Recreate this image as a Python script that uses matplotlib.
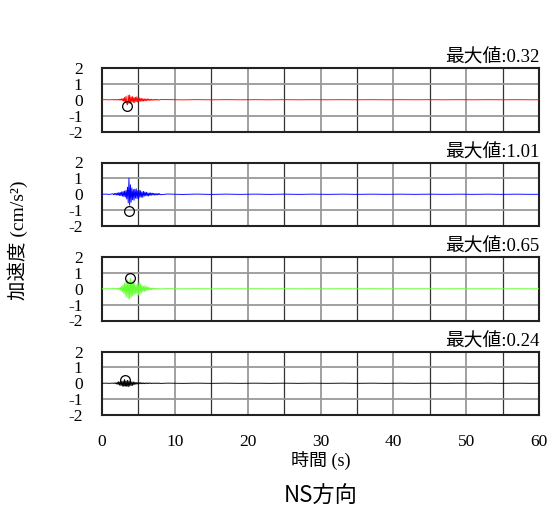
import numpy as np
import matplotlib
matplotlib.use("Agg")
import matplotlib.pyplot as plt

# ---------------- data ----------------
# burst section sampled every 0.1 s from 1.5 s to 8.0 s
burst_start, burst_step = 1.5, 0.1
red_burst = [
    0.01, -0.01, 0.02, -0.01, 0.01, -0.02, 0.02, -0.01, 0.02, -0.02,
    0.04, -0.03, 0.06, -0.05, 0.08,
    -0.10, 0.15, -0.18, 0.22, -0.25,
    -0.32, 0.28, -0.24, 0.30, -0.22, 0.18,
    -0.15, 0.20, -0.17, 0.14, -0.18, 0.16, -0.12, 0.19, -0.14, 0.12,
    -0.10, 0.12, -0.09, 0.08, -0.10, 0.07, -0.08, 0.06, -0.07, 0.05,
    -0.06, 0.05, -0.04, 0.05, -0.04, 0.03, -0.04, 0.03, -0.03, 0.02,
    -0.03, 0.02, -0.02, 0.03, -0.02, 0.02, -0.02, 0.01, -0.02, 0.01,
]
blue_burst = [
    0.03, -0.04, 0.05, -0.03, 0.06, -0.05, 0.08, -0.06, 0.10, -0.08,
    0.12, -0.10, 0.15, -0.12, 0.18,
    -0.15, 0.20, -0.18, 0.25, -0.30,
    0.45, -0.55, 1.01, -0.70, 0.60, -0.50,
    0.40, -0.35, 0.30, -0.38, 0.32, -0.25, 0.35, -0.28, 0.22, -0.30,
    0.25, -0.20, 0.22, -0.18, 0.15, -0.20, 0.18, -0.12, 0.14, -0.10,
    0.12, -0.10, 0.09, -0.11, 0.08, -0.07, 0.09, -0.06, 0.07, -0.05,
    0.06, -0.05, 0.04, -0.05, 0.04, -0.04, 0.05, -0.03, 0.04, -0.03,
]
green_burst = [
    0.01, -0.01, 0.02, -0.02, 0.02, -0.03, 0.03, -0.04, 0.05, -0.05,
    0.08, -0.12, 0.15, -0.20, 0.25,
    -0.30, 0.35, -0.40, 0.45, -0.50,
    0.55, -0.60, 0.50, -0.64, 0.65, -0.55,
    0.50, -0.45, 0.55, -0.40, 0.35, -0.30, 0.25, -0.30, 0.35, -0.40,
    0.42, -0.35, 0.30, -0.25, 0.20, -0.18, 0.15, -0.18, 0.20, -0.15,
    0.12, -0.10, 0.12, -0.08, 0.07, -0.06, 0.05, -0.05, 0.04, -0.03,
    0.03, -0.03, 0.02, -0.02, 0.02, -0.02, 0.01, -0.02, 0.01, -0.01,
]
black_burst = [
    0.01, -0.01, 0.02, -0.02, 0.03, -0.05, 0.06, -0.08, 0.10, -0.12,
    0.10, -0.15, 0.12, -0.18, 0.15,
    -0.20, 0.24, -0.18, 0.15, -0.20,
    0.18, -0.22, 0.15, -0.18, 0.12, -0.15,
    0.10, -0.14, 0.08, -0.10, 0.07, -0.06, 0.05, -0.06, 0.04, -0.05,
    0.04, -0.03, 0.04, -0.03, 0.03, -0.03, 0.02, -0.03, 0.02, -0.02,
    0.02, -0.02, 0.02, -0.02, 0.02, -0.01, 0.02, -0.02, 0.01, -0.01,
    0.01, -0.01, 0.02, -0.01, 0.01, -0.01, 0.01, -0.01, 0.01, -0.01,
]
# quiet sections: before the burst (0, 0.5, 1.0 s) and after it (every 2 s from 9 s)
pre_times = [0.0, 0.5, 1.0]
tail_times = [9, 11, 13, 15, 17, 19, 21, 23, 25, 27, 29, 31, 33, 35, 37,
              39, 41, 43, 45, 47, 49, 51, 53, 55, 57, 59, 60]
red_pre = [0.0, 0.005, -0.005]
blue_pre = [0.0, 0.01, -0.01]
green_pre = [0.0, 0.005, -0.005]
black_pre = [0.0, 0.005, -0.005]
red_tail = [0.01, -0.008, 0.006, -0.005, 0.005, -0.004, 0.004, -0.003, 0.003, -0.003,
            0.003, -0.003, 0.003, -0.003, 0.003, -0.003, 0.003, -0.003, 0.003, -0.003,
            0.003, -0.003, 0.003, -0.003, 0.003, -0.003, 0.0]
blue_tail = [0.015, -0.012, 0.01, -0.01, 0.008, -0.008, 0.008, -0.007, 0.007, -0.007,
             0.007, -0.006, 0.006, -0.006, 0.006, -0.005, 0.005, -0.005, 0.005, -0.005,
             0.005, -0.005, 0.005, -0.005, 0.005, -0.005, 0.0]
green_tail = [0.006, -0.005, 0.004, -0.004, 0.003, -0.003, 0.003, -0.003, 0.003, -0.003,
              0.003, -0.003, 0.003, -0.003, 0.003, -0.003, 0.003, -0.003, 0.003, -0.003,
              0.003, -0.003, 0.003, -0.003, 0.003, -0.003, 0.0]
black_tail = [0.008, -0.007, 0.006, -0.006, 0.005, -0.005, 0.005, -0.005, 0.005, -0.005,
              0.005, -0.005, 0.005, -0.005, 0.005, -0.005, 0.004, -0.004, 0.004, -0.004,
              0.004, -0.004, 0.004, -0.004, 0.004, -0.004, 0.0]
max_labels = ["最大値:0.32", "最大値:1.01", "最大値:0.65", "最大値:0.24"]
peak_times = [3.45, 3.75, 3.9, 3.15]
peak_marks = [-0.38, -1.07, 0.70, 0.20]
colors = ["#ff0000", "#0000ff", "#66ff33", "#000000"]
x_ticks = [0, 10, 20, 30, 40, 50, 60]
y_ticks = [-2, -1, 0, 1, 2]
x_label = "時間 (s)"
y_label = "加速度 (cm/s²)"
title = "NS方向"

# ---------------- figure ----------------
SERIF = ["Liberation Serif", "Noto Sans CJK JP", "DejaVu Sans"]
SANS = ["Noto Sans CJK JP", "DejaVu Sans"]

W, H = 551, 507
fig = plt.figure(figsize=(W / 100, H / 100), dpi=100)

burst_times = burst_start + burst_step * np.arange(len(red_burst))
series = [
    (red_pre, red_burst, red_tail),
    (blue_pre, blue_burst, blue_tail),
    (green_pre, green_burst, green_tail),
    (black_pre, black_burst, black_tail),
]

left_px, right_px = 102, 539
tops = [68, 162.5, 257, 351.5]
h_px = 63.5

for i, (pre, burst, tail) in enumerate(series):
    top = tops[i]
    ax = fig.add_axes([left_px / W, 1 - (top + h_px) / H,
                       (right_px - left_px) / W, h_px / H])
    ax.set_xlim(0, 60)
    ax.set_ylim(-2, 2)
    for xv in range(5, 60, 5):
        if xv % 10 == 0:
            ax.axvline(xv, color="#999999", lw=1.3, zorder=1)
        else:
            ax.axvline(xv, color="#333333", lw=0.9, zorder=1)
    for yv in (-1, 1):
        ax.axhline(yv, color="#999999", lw=1.3, zorder=1)
    t = np.concatenate([pre_times, burst_times, tail_times])
    v = np.concatenate([pre, burst, tail])
    ax.plot(t, v, color=colors[i], lw=0.65, zorder=3)
    ax.plot([peak_times[i]], [peak_marks[i]], marker="o", ms=7, mfc="none",
            mec="black", mew=0.9, ls="none", zorder=4)
    for sp in ax.spines.values():
        sp.set_color("#222222")
        sp.set_linewidth(1.5)
    ax.set_yticks(y_ticks)
    ax.set_yticklabels([str(y) for y in y_ticks], family=SERIF, fontsize=12.5)
    ax.tick_params(axis="y", length=0, pad=14)
    ax.tick_params(axis="x", length=0)
    ax.set_xticks(x_ticks)
    if i < 3:
        ax.set_xticklabels([])
    else:
        ax.set_xticklabels([str(x) for x in x_ticks], family=SERIF, fontsize=12.5)
        ax.tick_params(axis="x", pad=14)
    ax.grid(False)
    ax.text(1.0, 1.02, max_labels[i], transform=ax.transAxes, ha="right",
            va="bottom", family=SERIF, fontsize=13.5)

fig.text((left_px + right_px) / 2 / W, 1 - 460 / H, x_label, ha="center",
         va="center", family=SERIF, fontsize=13)
fig.text(18 / W, 1 - 240 / H, y_label, ha="center", va="center",
         rotation=90, family=SERIF, fontsize=14)
fig.text((left_px + right_px) / 2 / W, 1 - 496 / H, title, ha="center",
         va="center", family=SANS, fontsize=16)

fig.savefig("out.png", dpi=100)
